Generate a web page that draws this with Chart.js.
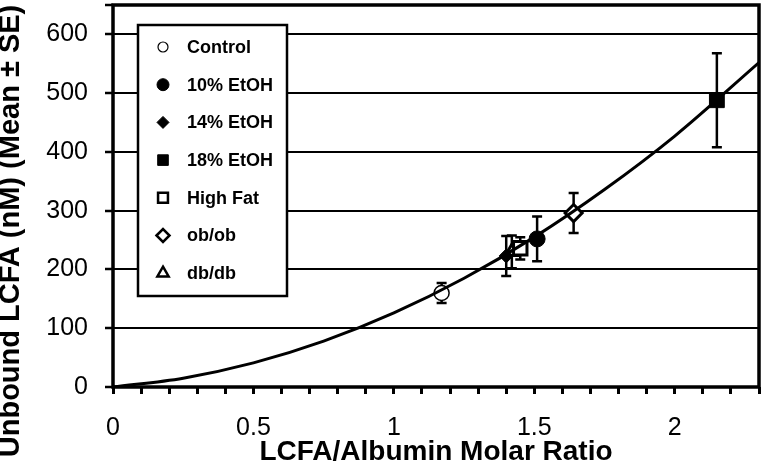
<!DOCTYPE html>
<html>
<head>
<meta charset="utf-8">
<script src="https://cdn.jsdelivr.net/npm/chart.js@4"></script>
<style>
  html, body { margin: 0; padding: 0; background: #fff; }
  #wrap { width: 763px; height: 470px; }
</style>
</head>
<body>
<div id="wrap"><canvas id="chart" width="763" height="470"></canvas></div>
<script>
// ---- data ----
const groups = ['Control', '10% EtOH', '14% EtOH', '18% EtOH', 'High Fat', 'ob/ob', 'db/db'];
const ratio  = [1.17, 1.51, 1.40, 2.15, 1.45, 1.64, 1.42];
const lcfa   = [160, 252, 223, 488, 236, 296, 230];
const se     = [17, 38, 34, 80, 19, 34, 28];

// fitted curve
const curveX = [0, 0.25, 0.5, 0.75, 1, 1.25, 1.5, 1.75, 2, 2.3];
const curveY = [0, 15, 41, 78, 126, 185, 255, 336, 427, 552];

const yTitle = 'Unbound LCFA (nM) (Mean ± SE)';
const xTitle = 'LCFA/Albumin Molar Ratio';

// marker looks per group
const styles = [
    { pointStyle: 'circle',  filled: false, r: 7.5, lr: 5,   bw: 1.5 },
    { pointStyle: 'circle',  filled: true,  r: 8,   lr: 6,   bw: 1 },
    { pointStyle: 'rectRot', filled: true,  r: 7,   lr: 6,   bw: 1 },
    { pointStyle: 'rect',    filled: true,  r: 10.5,lr: 7.5, bw: 1 },
    { pointStyle: 'rect',    filled: false, r: 9.5, lr: 7,   bw: 3 },
    { pointStyle: 'rectRot', filled: false, r: 8.5, lr: 6.5, bw: 3 },
    { pointStyle: 'triangle',filled: false, r: 7.5, lr: 6.5, bw: 3 },
];

const FONT = "'Liberation Sans', Arial, sans-serif";

const pointSets = groups.map((g, i) => ({
    label: g,
    data: [{ x: ratio[i], y: lcfa[i] }],
    showLine: false,
    pointStyle: styles[i].pointStyle,
    pointRadius: styles[i].r,
    pointHoverRadius: styles[i].r,
    pointBorderWidth: styles[i].bw,
    pointBorderColor: '#000',
    pointBackgroundColor: styles[i].filled ? '#000' : '#fff',
    order: 1,
}));

const curveSet = {
    label: 'fit',
    data: curveX.map((x, i) => ({ x, y: curveY[i] })),
    showLine: true,
    borderColor: '#000',
    borderWidth: 3,
    pointRadius: 0,
    cubicInterpolationMode: 'monotone',
    fill: false,
    order: 0,
};

// error bars drawn under the markers
const errorBars = {
    id: 'errorBars',
    beforeDatasetsDraw(chart) {
        const { ctx, scales: { x, y } } = chart;
        ctx.save();
        ctx.strokeStyle = '#000';
        ctx.lineWidth = 2.5;
        for (let i = 0; i < groups.length; i++) {
            const px = x.getPixelForValue(ratio[i]);
            const top = y.getPixelForValue(lcfa[i] + se[i]);
            const bot = y.getPixelForValue(lcfa[i] - se[i]);
            ctx.beginPath();
            ctx.moveTo(px, top); ctx.lineTo(px, bot);
            ctx.moveTo(px - 5, top); ctx.lineTo(px + 5, top);
            ctx.moveTo(px - 5, bot); ctx.lineTo(px + 5, bot);
            ctx.stroke();
        }
        ctx.restore();
    },
};

// plot frame, y title and legend box inside the plot
const frameAndLegend = {
    id: 'frameAndLegend',
    afterDraw(chart) {
        const { ctx, chartArea: a } = chart;
        ctx.save();
        ctx.strokeStyle = '#000';
        ctx.lineWidth = 3.5;
        ctx.strokeRect(a.left, a.top, a.right - a.left, a.bottom - a.top);

        // y axis title (sits a bit lower than the plot centre in the original)
        ctx.save();
        ctx.translate(11, 231);
        ctx.rotate(-Math.PI / 2);
        ctx.font = 'bold 29px ' + FONT;
        ctx.fillStyle = '#000';
        ctx.textAlign = 'center';
        ctx.textBaseline = 'middle';
        ctx.fillText(yTitle, 0, 0);
        ctx.restore();

        // legend
        const lx = 138, ly = 25, lw = 149, lh = 271;
        ctx.fillStyle = '#fff';
        ctx.fillRect(lx, ly, lw, lh);
        ctx.lineWidth = 2.5;
        ctx.strokeRect(lx, ly, lw, lh);
        ctx.font = 'bold 18px ' + FONT;
        ctx.textBaseline = 'middle';
        ctx.textAlign = 'left';
        groups.forEach((g, i) => {
            const cy = 47 + i * 37.7;
            const s = styles[i];
            ctx.fillStyle = s.filled ? '#000' : '#fff';
            ctx.strokeStyle = '#000';
            ctx.lineWidth = s.filled ? 1 : (s.bw > 2 ? 2.5 : 1.2);
            Chart.helpers.drawPoint(ctx, { pointStyle: s.pointStyle, radius: s.lr, rotation: 0, borderWidth: ctx.lineWidth }, 163, cy);
            ctx.fillStyle = '#000';
            ctx.fillText(g, 187, cy + 1);
        });
        ctx.restore();
    },
};

new Chart(document.getElementById('chart'), {
    type: 'scatter',
    data: { datasets: [curveSet, ...pointSets] },
    options: {
        responsive: false,
        animation: false,
        events: [],
        layout: { autoPadding: false, padding: { left: 0, right: 4, top: 5, bottom: 0 } },
        plugins: { legend: { display: false }, tooltip: { enabled: false } },
        scales: {
            x: {
                type: 'linear',
                min: 0,
                max: 2.3,
                afterFit: s => { s.height = 83; s.paddingLeft = 0; s.paddingRight = 0; },
                ticks: {
                    stepSize: 0.1,
                    autoSkip: false,
                    maxRotation: 0,
                    padding: 19,
                    color: '#000',
                    font: { family: FONT, size: 25 },
                    callback: v => {
                        const h = v * 2;
                        return Math.abs(h - Math.round(h)) < 1e-6 ? String(Math.round(h) / 2) : '';
                    },
                },
                grid: {
                    drawOnChartArea: false,
                    drawTicks: true,
                    tickLength: 7,
                    tickWidth: 3,
                    tickColor: '#000',
                },
                border: { display: false },
                title: {
                    display: true,
                    text: xTitle,
                    color: '#000',
                    font: { family: FONT, size: 28, weight: 'bold' },
                    padding: { top: 0, bottom: 1 },
                },
            },
            y: {
                min: 0,
                max: 650,
                afterFit: s => { s.width = 113; s.paddingTop = 0; s.paddingBottom = 0; },
                ticks: {
                    stepSize: 100,
                    padding: 17,
                    color: '#000',
                    font: { family: FONT, size: 25 },
                    callback: v => (v % 100 === 0 ? String(v) : ''),
                },
                grid: {
                    color: ctx => (ctx.tick && ctx.tick.value % 100 === 0 ? '#000' : 'rgba(0,0,0,0)'),
                    lineWidth: 2,
                    tickLength: 8,
                    tickColor: '#000',
                    tickWidth: 2.5,
                },
                border: { display: false },
                title: { display: false },
            },
        },
    },
    plugins: [errorBars, frameAndLegend],
});
</script>
</body>
</html>
